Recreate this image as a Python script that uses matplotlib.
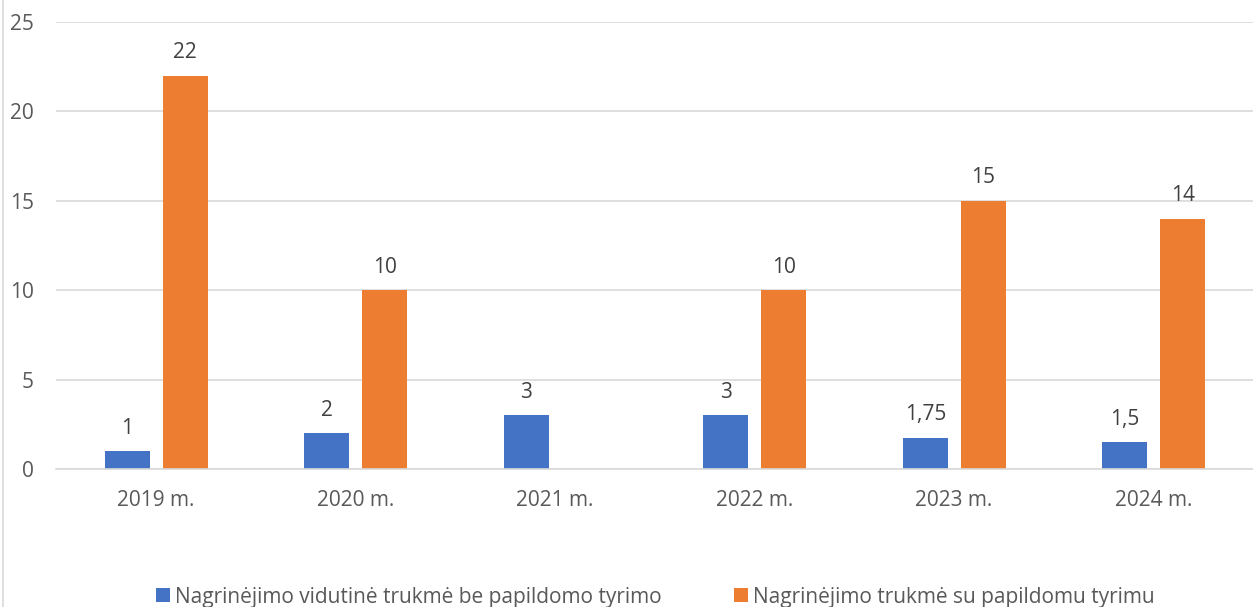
import numpy as np
import matplotlib.pyplot as plt

# Data
years = ['2019 m.', '2020 m.', '2021 m.', '2022 m.', '2023 m.', '2024 m.']
be_tyrimo = [1, 2, 3, 3, 1.75, 1.5]
su_tyrimu = [22, 10, np.nan, 10, 15, 14]
label_be = 'Nagrinėjimo vidutinė trukmė be papildomo tyrimo'
label_su = 'Nagrinėjimo trukmė su papildomu tyrimu'

plt.rcParams['font.family'] = ['Open Sans', 'DejaVu Sans']
txt = '#595959'

fig = plt.figure(figsize=(12.53, 6.07), dpi=100)
ax = fig.add_axes([56 / 1253, 1 - 469 / 607, 1 - 56 / 1253, (469 - 22) / 607])

x = np.arange(len(years))
w = 0.225
b1 = ax.bar(x - 0.142, be_tyrimo, w, color='#4472C4', label=label_be)
b2 = ax.bar(x + 0.148, su_tyrimu, w, color='#ED7D31', label=label_su)

def fmt(v):
    return ('%g' % v).replace('.', ',')

for bars, vals in [(b1, be_tyrimo), (b2, su_tyrimu)]:
    for r, v in zip(bars, vals):
        if np.isnan(v):
            continue
        ax.annotate(fmt(v), (r.get_x() + r.get_width() / 2, v), xytext=(0, 9),
                    textcoords='offset points', ha='center', va='bottom',
                    fontsize=15, color='#404040')

ax.set_xlim(-0.5, 5.5)
ax.set_ylim(0, 25)
ax.set_yticks(range(0, 26, 5))
ax.yaxis.grid(True, color='#d9d9d9', linewidth=1.2)
ax.set_axisbelow(True)
for s in ['top', 'right', 'left']:
    ax.spines[s].set_visible(False)
ax.spines['bottom'].set_color('#d9d9d9')
ax.spines['bottom'].set_linewidth(1.2)
ax.tick_params(length=0, labelsize=15, colors=txt)
ax.tick_params(axis='x', pad=15)
ax.tick_params(axis='y', pad=16)
ax.set_xticks(x)
ax.set_xticklabels(years)

fig.legend(loc='center', bbox_to_anchor=(0.523, 1 - 597 / 607), ncol=2,
           frameon=False, fontsize=15, labelcolor=txt, handlelength=0.65,
           handleheight=0.65, handletextpad=0.25, columnspacing=3.5)

# thin frame line on the left edge
fig.add_artist(plt.Line2D([3 / 1253, 3 / 1253], [0, 1], color='#d9d9d9', linewidth=1.2))

fig.savefig('out.png', dpi=100)
